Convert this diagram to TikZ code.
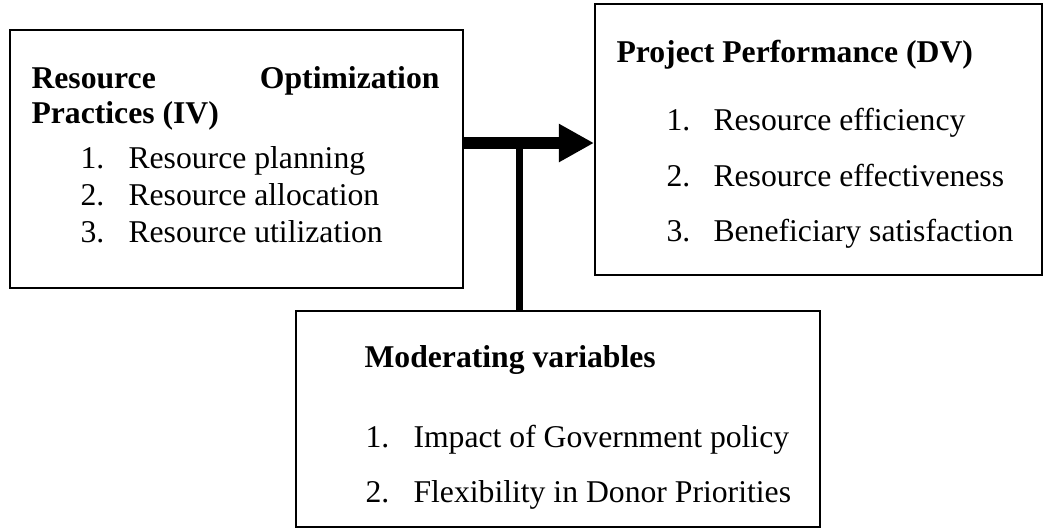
\documentclass[tikz,border=0pt]{standalone}
\usepackage{fontspec}
\setmainfont{Liberation Serif}
\usetikzlibrary{arrows.meta,fit}
\begin{document}
\begin{tikzpicture}[x=0.3788pt,y=-0.3788pt,
  box/.style={draw,line width=0.75pt,inner sep=0pt},
  txt/.style={anchor=base west,inner sep=0pt,font=\fontsize{12}{14}\selectfont},
  head/.style={txt,font=\fontsize{12}{14}\selectfont\bfseries},
  num/.style={txt},
  link/.style={line width=4.55pt},
  stem/.style={line width=2.65pt}]
\useasboundingbox (0,0) rectangle (1045,529);

% frames
\coordinate (ivA) at (10,30);   \coordinate (ivB) at (463,288);
\coordinate (dvA) at (595,4);   \coordinate (dvB) at (1042,275);
\coordinate (mvA) at (296,311); \coordinate (mvB) at (820,527);
\node[box,fit=(ivA)(ivB)] (iv) {};
\node[box,fit=(dvA)(dvB)] (dv) {};
\node[box,fit=(mvA)(mvB)] (mv) {};

% independent variable
\node[head] (ivh1) at (31,88) {Resource};
\node[head,anchor=base east] (ivh2) at (440,88) {Optimization};
\node[head] (ivh3) at (31,123) {Practices (IV)};
\node[num] (ivn1) at (80,168) {1.};
\node[txt] (ivt1) at (128,168) {Resource planning};
\node[num] (ivn2) at (80,205) {2.};
\node[txt] (ivt2) at (128,205) {Resource allocation};
\node[num] (ivn3) at (80,242) {3.};
\node[txt] (ivt3) at (128,242) {Resource utilization};

% dependent variable
\node[head] (dvh) at (616,62) {Project Performance (DV)};
\node[num] (dvn1) at (666,130) {1.};
\node[txt] (dvt1) at (713,130) {Resource efficiency};
\node[num] (dvn2) at (666,186) {2.};
\node[txt] (dvt2) at (713,186) {Resource effectiveness};
\node[num] (dvn3) at (666,241) {3.};
\node[txt] (dvt3) at (713,241) {Beneficiary satisfaction};

% moderating variables
\node[head] (mvh) at (364,367) {Moderating variables};
\node[num] (mvn1) at (365,447) {1.};
\node[txt] (mvt1) at (413,447) {Impact of Government policy};
\node[num] (mvn2) at (365,502) {2.};
\node[txt] (mvt2) at (413,502) {Flexibility in Donor Priorities};

% connectors
\coordinate (j) at (519,143);
\draw[stem] (j) -- (j |- mv.north);
\draw[link,-{Triangle[length=13.3pt,width=13.6pt]}] (iv.east |- j) -- (dv.west |- j);
\end{tikzpicture}
\end{document}
